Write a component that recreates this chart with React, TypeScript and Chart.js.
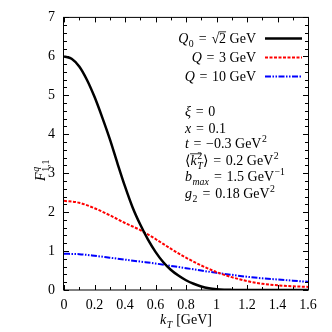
import React, { useEffect, useRef } from "react";
import { Chart, registerables } from "chart.js";
Chart.register(...registerables);

const kTFine = [0, 0.05, 0.1, 0.15, 0.2, 0.25, 0.3, 0.35, 0.4, 0.45, 0.5, 0.55, 0.6, 0.65, 0.7, 0.75, 0.8, 0.85, 0.9, 0.95, 1.0, 1.05, 1.1, 1.15, 1.2, 1.3, 1.4, 1.5, 1.6];
const q0Values = [6.0, 5.94, 5.74, 5.4, 4.96, 4.44, 3.88, 3.26, 2.66, 2.12, 1.68, 1.3, 0.98, 0.72, 0.52, 0.37, 0.25, 0.16, 0.09, 0.045, 0.02, 0.008, 0.003, 0.001, 0, 0, 0, 0, 0];
const kTCoarse = [0, 0.1, 0.2, 0.3, 0.4, 0.5, 0.6, 0.7, 0.8, 0.9, 1.0, 1.1, 1.2, 1.3, 1.4, 1.5, 1.6];
const q3Values = [2.29, 2.24, 2.1, 1.92, 1.72, 1.54, 1.31, 1.06, 0.83, 0.63, 0.46, 0.33, 0.23, 0.16, 0.12, 0.095, 0.08];
const q10Values = [0.93, 0.92, 0.88, 0.83, 0.78, 0.73, 0.68, 0.62, 0.56, 0.5, 0.44, 0.39, 0.34, 0.3, 0.27, 0.24, 0.21];

const xTicks = [0, 0.2, 0.4, 0.6, 0.8, 1, 1.2, 1.4, 1.6];
const yTicks = [0, 1, 2, 3, 4, 5, 6, 7];

const FONT = '"Liberation Serif", "DejaVu Serif", serif';
const SIZE = 14;
const EQ = "\u2004=\u2004";

type Run = { t?: string; it?: boolean; sub?: string; sup?: string; over?: boolean; subIt?: boolean; supIt?: boolean };

function runFont(size: number, it?: boolean) {
  return `${it ? "italic " : ""}${size}px ${FONT}`;
}

function measureRun(ctx: CanvasRenderingContext2D, r: Run, size: number) {
  let w = 0;
  if (r.t) {
    ctx.font = runFont(size, r.it);
    w += ctx.measureText(r.t).width;
  }
  let sw = 0;
  if (r.sub) {
    ctx.font = runFont(size * 0.7, r.subIt);
    sw = Math.max(sw, ctx.measureText(r.sub).width);
  }
  if (r.sup) {
    ctx.font = runFont(size * 0.7, r.supIt);
    sw = Math.max(sw, ctx.measureText(r.sup).width);
  }
  return w + sw + (sw ? 1 : 0);
}

function drawRuns(ctx: CanvasRenderingContext2D, runs: Run[], x: number, y: number, align: "left" | "right" | "center", size: number) {
  const total = runs.reduce((a, r) => a + measureRun(ctx, r, size), 0);
  let cx = align === "left" ? x : align === "right" ? x - total : x - total / 2;
  ctx.save();
  ctx.textAlign = "left";
  ctx.textBaseline = "alphabetic";
  ctx.fillStyle = "#000";
  for (const r of runs) {
    if (r.t) {
      ctx.font = runFont(size, r.it);
      ctx.fillText(r.t, cx, y);
      const w = ctx.measureText(r.t).width;
      if (r.over) {
        ctx.strokeStyle = "#000";
        ctx.lineWidth = 0.8;
        ctx.beginPath();
        ctx.moveTo(cx - 0.5, y - size * 0.8);
        ctx.lineTo(cx + w + (r.sup ? 5 : 0), y - size * 0.8);
        ctx.stroke();
      }
      cx += w;
    }
    let sw = 0;
    if (r.sup) {
      ctx.font = runFont(size * 0.7, r.supIt);
      ctx.fillText(r.sup, cx + 0.5, y - size * 0.4);
      sw = Math.max(sw, ctx.measureText(r.sup).width);
    }
    if (r.sub) {
      ctx.font = runFont(size * 0.7, r.subIt);
      ctx.fillText(r.sub, cx + 0.5, y + size * 0.25);
      sw = Math.max(sw, ctx.measureText(r.sub).width);
    }
    cx += sw + (sw ? 1 : 0);
  }
  ctx.restore();
}

const legendItems: { runs: Run[]; color: string; dash: number[]; width: number }[] = [
  { runs: [{ t: "Q", it: true, sub: "0" }, { t: EQ + "√" }, { t: "2", over: true }, { t: " GeV" }], color: "#000000", dash: [], width: 2.5 },
  { runs: [{ t: "Q", it: true }, { t: EQ + "3 GeV" }], color: "#ff0000", dash: [3, 1.5], width: 2 },
  { runs: [{ t: "Q", it: true }, { t: EQ + "10 GeV" }], color: "#0000ff", dash: [6, 1.5, 1.5, 1.5, 1.5, 1.5], width: 2 },
];

const annotations: Run[][] = [
  [{ t: "ξ", it: true }, { t: EQ + "0" }],
  [{ t: "x", it: true }, { t: EQ + "0.1" }],
  [{ t: "t", it: true }, { t: EQ + "−0.3 GeV", sup: "2" }],
  [{ t: "⟨" }, { t: "k", it: true, over: true, sup: "2", sub: "T", subIt: true }, { t: "⟩" + EQ + "0.2 GeV", sup: "2" }],
  [{ t: "b", it: true, sub: "max", subIt: true }, { t: EQ + "1.5 GeV", sup: "−1" }],
  [{ t: "g", it: true, sub: "2" }, { t: EQ + "0.18 GeV", sup: "2" }],
];

const decorPlugin = {
  id: "decor",
  afterDraw(chart: any) {
    const ctx: CanvasRenderingContext2D = chart.ctx;
    const { left, right, top, bottom } = chart.chartArea;
    const xs = chart.scales.x;
    const ys = chart.scales.y;
    ctx.save();
    // frame
    ctx.strokeStyle = "#000";
    ctx.lineWidth = 1;
    ctx.beginPath();
    ctx.moveTo(Math.round(left) - 0.5, top);
    ctx.lineTo(Math.round(left) - 0.5, bottom);
    ctx.moveTo(Math.round(right) + 0.5, top);
    ctx.lineTo(Math.round(right) + 0.5, bottom);
    ctx.moveTo(left - 1, top);
    ctx.lineTo(right + 1, top);
    ctx.moveTo(left - 1, bottom);
    ctx.lineTo(right + 1, bottom);
    ctx.stroke();
    // ticks
    ctx.beginPath();
    for (let v = 0; v <= 16; v++) {
      const px = Math.round(xs.getPixelForValue(v / 10)) + 0.5;
      const len = v % 2 === 0 ? 5 : 3;
      ctx.moveTo(px, bottom);
      ctx.lineTo(px, bottom - len);
      ctx.moveTo(px, top);
      ctx.lineTo(px, top + len);
    }
    for (let v = 0; v <= 35; v++) {
      const py = Math.round(ys.getPixelForValue(v / 5)) + 0.5;
      const len = v % 5 === 0 ? 5 : 3;
      ctx.moveTo(left, py);
      ctx.lineTo(left + len, py);
      ctx.moveTo(right, py);
      ctx.lineTo(right - len, py);
    }
    ctx.stroke();

    // legend
    const rowsY = [38.5, 57.5, 76.5];
    legendItems.forEach((it, i) => {
      drawRuns(ctx, it.runs, 256, rowsY[i] + 4.5, "right", SIZE);
      ctx.save();
      ctx.strokeStyle = it.color;
      ctx.lineWidth = it.width;
      ctx.setLineDash(it.dash);
      ctx.beginPath();
      ctx.moveTo(265, rowsY[i]);
      ctx.lineTo(302, rowsY[i]);
      ctx.stroke();
      ctx.restore();
    });

    // annotations
    const baseY = [116, 132.5, 148, 165, 181, 198];
    annotations.forEach((runs, i) => drawRuns(ctx, runs, 185, baseY[i], "left", SIZE));

    // axis titles
    drawRuns(ctx, [{ t: "k", it: true, sub: "T", subIt: true }, { t: " [GeV]" }], 186, 324, "center", SIZE);
    ctx.save();
    ctx.translate(45, 170);
    ctx.rotate(-Math.PI / 2);
    drawRuns(ctx, [{ t: "F", it: true, sup: "q", supIt: true, sub: "1,1" }], 0, 0, "center", SIZE);
    ctx.restore();
    ctx.restore();
  },
};

export default function App() {
  const ref = useRef<HTMLCanvasElement | null>(null);
  useEffect(() => {
    if (!ref.current) return;
    const chart = new Chart(ref.current, {
      type: "line",
      data: {
        datasets: [
          {
            label: "Q0 = √2 GeV",
            data: kTFine.map((x, i) => ({ x, y: q0Values[i] })),
            borderColor: "#000000",
            borderWidth: 2.5,
            pointRadius: 0,
            cubicInterpolationMode: "monotone",
          },
          {
            label: "Q = 3 GeV",
            data: kTCoarse.map((x, i) => ({ x, y: q3Values[i] })),
            borderColor: "#ff0000",
            borderWidth: 2,
            borderDash: [3, 1.5],
            pointRadius: 0,
            cubicInterpolationMode: "monotone",
          },
          {
            label: "Q = 10 GeV",
            data: kTCoarse.map((x, i) => ({ x, y: q10Values[i] })),
            borderColor: "#0000ff",
            borderWidth: 2,
            borderDash: [6, 1.5, 1.5, 1.5, 1.5, 1.5],
            pointRadius: 0,
            cubicInterpolationMode: "monotone",
          },
        ],
      },
      options: {
        animation: false,
        responsive: false,
        devicePixelRatio: 1,
        layout: { padding: { top: 16, right: 24, left: 0, bottom: 0 } },
        plugins: { legend: { display: false }, tooltip: { enabled: false } },
        scales: {
          x: {
            type: "linear",
            min: 0,
            max: 1.6,
            afterBuildTicks: (s: any) => {
              s.ticks = xTicks.map((v) => ({ value: v }));
            },
            afterFit: (s: any) => {
              s.height = 42;
            },
            grid: { display: false, drawTicks: false },
            border: { display: false },
            ticks: {
              padding: 7,
              color: "#000",
              font: { family: FONT, size: SIZE },
              maxRotation: 0,
              callback: (v: any) => String(Number(Number(v).toFixed(1))),
            },
          },
          y: {
            type: "linear",
            min: 0,
            max: 7,
            afterBuildTicks: (s: any) => {
              s.ticks = yTicks.map((v) => ({ value: v }));
            },
            afterFit: (s: any) => {
              s.width = 64;
            },
            grid: { display: false, drawTicks: false },
            border: { display: false },
            ticks: {
              padding: 9,
              color: "#000",
              font: { family: FONT, size: SIZE },
              callback: (v: any) => String(v),
            },
          },
        },
      },
      plugins: [decorPlugin],
    });
    return () => chart.destroy();
  }, []);
  return (
    <div style={{ position: "fixed", left: 0, top: 0, width: 332, height: 332, background: "#fff" }}>
      <canvas ref={ref} width={332} height={332} style={{ width: 332, height: 332 }} />
    </div>
  );
}
